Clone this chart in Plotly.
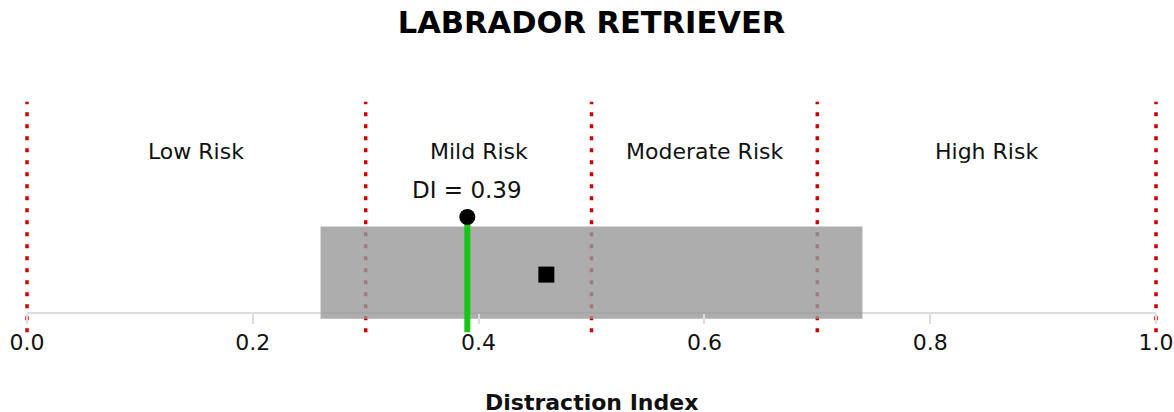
import plotly.graph_objects as go

title_text = "LABRADOR RETRIEVER"
thresholds = [0.0, 0.3, 0.5, 0.7, 1.0]
zone_labels = ["Low Risk", "Mild Risk", "Moderate Risk", "High Risk"]
di_value = 0.39
breed_low = 0.26
breed_high = 0.74
breed_mean = 0.46
tick_vals = [0.0, 0.2, 0.4, 0.6, 0.8, 1.0]
tick_text = ["0.0", "0.2", "0.4", "0.6", "0.8", "1.0"]

FONT = "DejaVu Sans, Verdana, sans-serif"

fig = go.Figure()

# x range is exactly [0, 1] over the full paper width, so paper x == data x;
# paper refs keep the edge lines from being clipped by the plot area.
shapes = []
# baseline (axis line) drawn first so the translucent range box sits over it
shapes.append(dict(type="line", xref="paper", yref="paper", x0=0, x1=1, y0=0, y1=0,
                   line=dict(color="#dddddd", width=2), layer="below"))
for t in thresholds:
    shapes.append(dict(type="line", xref="paper", yref="paper", x0=t, x1=t, y0=-0.1, y1=1.1,
                       line=dict(color="#cc0000", width=3.5, dash="4px,8px"), layer="below"))
shapes.append(dict(type="rect", xref="x", yref="paper", x0=breed_low, x1=breed_high, y0=-0.03, y1=0.45,
                   fillcolor="rgba(153,153,153,0.8)", line=dict(width=0), layer="below"))
shapes.append(dict(type="line", xref="x", yref="paper", x0=di_value, x1=di_value, y0=-0.1, y1=0.5,
                   line=dict(color="#16c816", width=6), layer="below"))

fig.add_trace(go.Scatter(x=[breed_mean], y=[0.2], mode="markers",
                         marker=dict(symbol="square", size=16, color="black"),
                         showlegend=False, hoverinfo="skip", cliponaxis=False))
fig.add_trace(go.Scatter(x=[di_value], y=[0.5], mode="markers",
                         marker=dict(symbol="circle", size=16, color="black"),
                         showlegend=False, hoverinfo="skip", cliponaxis=False))

annotations = []
for i, lab in enumerate(zone_labels):
    xc = (thresholds[i] + thresholds[i + 1]) / 2
    annotations.append(dict(x=xc, y=0.84, xref="x", yref="paper", yanchor="middle", text=lab,
                            showarrow=False, font=dict(family=FONT, size=22, color="#111111")))
annotations.append(dict(x=di_value, y=0.64, xref="x", yref="paper", yanchor="middle",
                        text=f"DI = {di_value:.2f}",
                        showarrow=False, font=dict(family=FONT, size=23, color="#111111")))
annotations.append(dict(x=0.5, y=-0.465, xref="paper", yref="paper", yanchor="middle",
                        text="<b>Distraction Index</b>", showarrow=False,
                        font=dict(family=FONT, size=22, color="#111111")))

fig.update_layout(
    width=1174, height=412, autosize=False,
    margin=dict(l=27, r=18, t=121, b=99, autoexpand=False),
    paper_bgcolor="white", plot_bgcolor="white",
    title=dict(text=f"<b>{title_text}</b>", x=0.5, xref="paper", xanchor="center", y=1 - 22 / 412,
               yref="container", yanchor="middle",
               font=dict(family=FONT, size=30.5, color="black")),
    shapes=shapes,
    annotations=annotations,
    xaxis=dict(range=[0, 1], tickvals=tick_vals, ticktext=tick_text, showgrid=False, zeroline=False,
               showline=False, ticks="outside", ticklen=10,
               tickwidth=2, tickcolor="#dddddd", automargin=False,
               tickfont=dict(family=FONT, size=22, color="#111111")),
    yaxis=dict(range=[0, 1], visible=False, showgrid=False, zeroline=False, fixedrange=True,
               automargin=False),
    showlegend=False,
)

fig.write_html("out.html",
               config={"displayModeBar": False, "responsive": False},
               default_width="1174px", default_height="412px",
               post_script="document.body.style.margin='0';document.body.style.overflow='hidden';")
